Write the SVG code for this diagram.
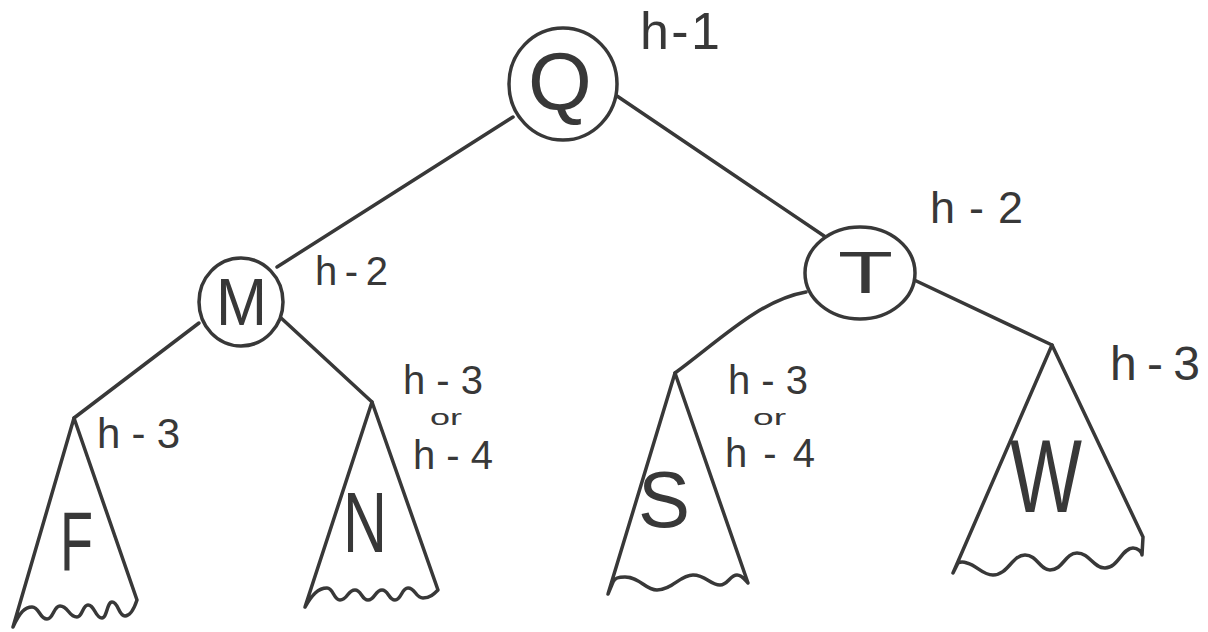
<svg xmlns="http://www.w3.org/2000/svg" width="1208" height="632" viewBox="0 0 1208 632">
<style>
.ln{fill:none;stroke:#383838;stroke-width:3.5;stroke-linecap:round;stroke-linejoin:round}
.nd{fill:#fff;stroke:#383838;stroke-width:3.5}
.t{font-family:"Liberation Sans",Arial,sans-serif;fill:#383838}
</style>
<rect width="1208" height="632" fill="#fff"/>
<g id="connectors">
<path class="ln" d="M513,117 L277,267"/>
<path class="ln" d="M617,96 L833,242"/>
<path class="ln" d="M199,323 L74,418"/>
<path class="ln" d="M280,317 L372,402"/>
<path class="ln" d="M675,373 C720,340 760,300 806,292"/>
<path class="ln" d="M910,278 L1052,345"/>
</g>
<g id="node-Q">
<ellipse class="nd" cx="563" cy="84" rx="54" ry="56"/>
<text class="t" x="528" y="110" font-size="82">Q</text>
<text class="t" x="640" y="49" font-size="52" textLength="80" lengthAdjust="spacing">h-1</text>
</g>
<g id="node-M">
<ellipse class="nd" cx="241" cy="302" rx="42" ry="44"/>
<text class="t" x="216" y="325" font-size="66" textLength="51" lengthAdjust="spacingAndGlyphs">M</text>
<text class="t" x="315" y="285" font-size="40" textLength="73" lengthAdjust="spacing">h-2</text>
</g>
<g id="node-T">
<ellipse class="nd" cx="860" cy="273" rx="55" ry="46"/>
<text class="t" x="838" y="293" font-size="60" textLength="55" lengthAdjust="spacingAndGlyphs">T</text>
<text class="t" x="930" y="223" font-size="45" textLength="93" lengthAdjust="spacing">h-2</text>
</g>
<g id="node-F">
<path class="ln" d="M74,418 L13,627 C20,612 25,607 32,607 C39.5,607 39.5,619 47,619 C53.5,619 53.5,606 60,606 C68.5,606 68.5,617 77,617 C82.5,617 82.5,605 88,605 C95,605 95,618 102,618 C107,618 107,602 112,602 C118.5,602 118.5,616 125,616 C131,616 135,606 137,600 Z"/>
<text class="t" x="60" y="570" font-size="84" textLength="33" lengthAdjust="spacingAndGlyphs">F</text>
<text class="t" x="97" y="448" font-size="42" textLength="83" lengthAdjust="spacing">h-3</text>
</g>
<g id="node-N">
<path class="ln" d="M372,402 L305,607 C312,595 318,588 327,588 C333.5,588 333.5,600 340,600 C347.5,600 347.5,590 355,590 C361.5,590 361.5,600 368,600 C375,600 375,590 382,590 C388.5,590 388.5,600 395,600 C401.5,600 401.5,588 408,588 C415.5,588 415.5,598 423,598 C430,598 434,594 438,590 Z"/>
<text class="t" x="343" y="552" font-size="86" textLength="44" lengthAdjust="spacingAndGlyphs">N</text>
<text class="t" x="403" y="394" font-size="40" textLength="80" lengthAdjust="spacing">h-3</text>
<text class="t" x="430" y="425" font-size="22" textLength="32" lengthAdjust="spacingAndGlyphs">or</text>
<text class="t" x="413" y="469" font-size="40" textLength="80" lengthAdjust="spacing">h-4</text>
</g>
<g id="node-S">
<path class="ln" d="M675,373 L608,594 L613,582 C615,578 618,577 625,577 C640,577 645,590 657,590 C672,590 680,575 693,575 C706,575 710,585 720,585 C728,585 730,575 737,575 C742,575 745,580 748,583 Z"/>
<text class="t" x="638" y="527" font-size="80" textLength="52" lengthAdjust="spacingAndGlyphs">S</text>
<text class="t" x="728" y="394" font-size="40" textLength="80" lengthAdjust="spacing">h-3</text>
<text class="t" x="753" y="425" font-size="22" textLength="33" lengthAdjust="spacingAndGlyphs">or</text>
<text class="t" x="725" y="467" font-size="40" textLength="90" lengthAdjust="spacing">h-4</text>
</g>
<g id="node-W">
<path class="ln" d="M1052,345 L953,573 L958,563 C960,562 964,562 967,563 C978,566 982,575 993,575 C1008,575 1012,555 1025,555 C1037,555 1040,570 1050,570 C1063,570 1065,553 1077,553 C1090,553 1093,568 1105,568 C1118,568 1122,548 1133,548 C1138,548 1142,552 1142,555 L1143,537 Z"/>
<text class="t" x="1010" y="512" font-size="104" textLength="72" lengthAdjust="spacingAndGlyphs">W</text>
<text class="t" x="1110" y="380" font-size="48" textLength="90" lengthAdjust="spacing">h-3</text>
</g>
</svg>
